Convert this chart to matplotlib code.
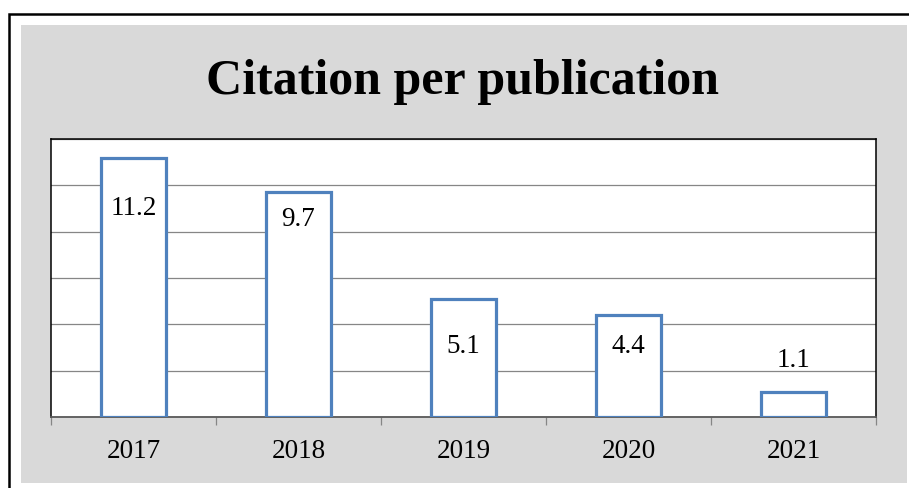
import matplotlib
matplotlib.use("Agg")
import matplotlib.pyplot as plt
from matplotlib.patches import Rectangle

years = ["2017", "2018", "2019", "2020", "2021"]
citations = [11.2, 9.7, 5.1, 4.4, 1.1]
label_text = ["11.2", "9.7", "5.1", "4.4", "1.1"]
# label offsets from bar top (points; negative = inside bar)
label_offsets = [-36.5, -19.5, -34.5, -22.5, 22.5]

W, H = 909, 488
fig = plt.figure(figsize=(W / 100, H / 100), dpi=100)
fig.patch.set_facecolor("white")

# outer black frame (clipped at right/bottom)
fig.patches.append(Rectangle((8.5 / W, -0.1), 1.2, (H - 14) / H + 0.1, transform=fig.transFigure,
                             facecolor="none", edgecolor="black", linewidth=1.8, zorder=-2))
# gray chart area
fig.patches.append(Rectangle((21 / W, (H - 483) / H), (907 - 21) / W, (483 - 25) / H,
                             transform=fig.transFigure, facecolor="#d9d9d9", edgecolor="none", zorder=-1))

ax = fig.add_axes([51 / W, (H - 417) / H, 825 / W, 278 / H])
ax.set_zorder(2)
ax.set_facecolor("white")
x = list(range(len(years)))
ax.bar(x, citations, width=0.39, facecolor="white", edgecolor="#4f81bd", linewidth=2.3, zorder=3)
ax.set_xlim(-0.5, len(years) - 0.5)
ax.set_ylim(0, 12)
ax.set_yticks(range(0, 13, 2))
ax.yaxis.grid(True, color="#868686", linewidth=0.9, zorder=0)
ax.set_axisbelow(True)
ax.tick_params(axis="y", left=False, labelleft=False)
ax.set_xticks(x)
ax.set_xticklabels(years, family="Liberation Serif", fontsize=19.5)
ax.tick_params(axis="x", length=0, pad=16)
ax.set_xticks([i - 0.5 for i in range(len(years) + 1)], minor=True)
ax.tick_params(axis="x", which="minor", length=6, width=0.9, color="#868686")
for s in ["top", "right", "left"]:
    ax.spines[s].set_color("black")
    ax.spines[s].set_linewidth(1.1)
ax.spines["bottom"].set_color("#595959")
ax.spines["bottom"].set_linewidth(1.3)

for xi, v, t, off in zip(x, citations, label_text, label_offsets):
    ax.annotate(t, (xi, v), xytext=(0, off), textcoords="offset points",
                ha="center", va="center", family="Liberation Serif", fontsize=19.5, zorder=4)

fig.text(462.5 / W, (H - 94) / H, "Citation per publication", ha="center", va="baseline",
         family="Liberation Serif", fontweight="bold", fontsize=36)

fig.savefig("out.png", dpi=100)
